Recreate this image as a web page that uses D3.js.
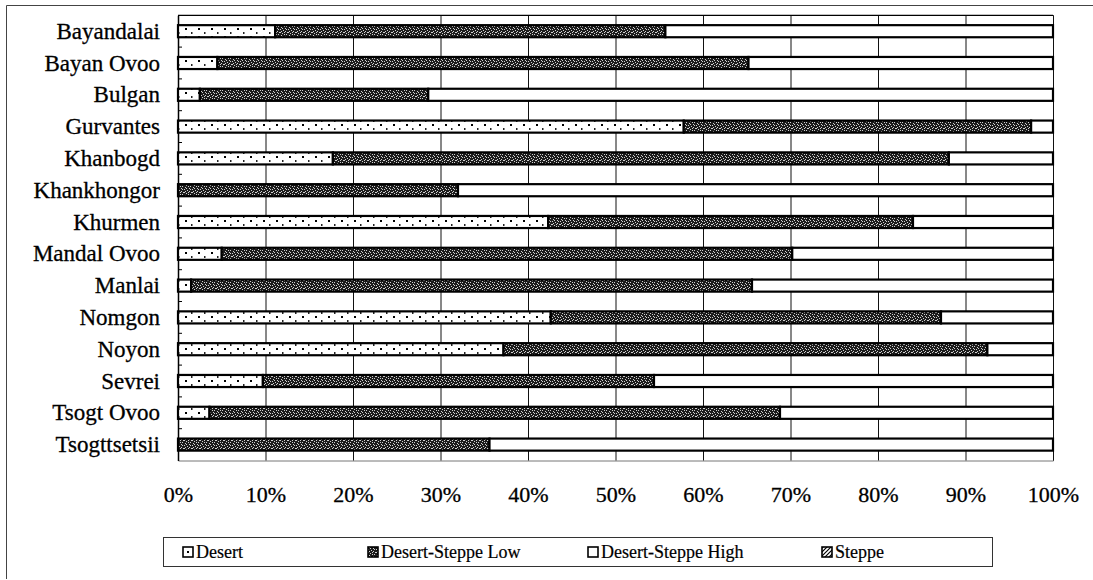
<!DOCTYPE html>
<html>
<head>
<meta charset="utf-8">
<script src="https://cdn.jsdelivr.net/npm/d3@7"></script>
<style>
  html, body { margin: 0; padding: 0; background: #fff; }
  svg { display: block; }
  svg text { font-family: "Liberation Serif", "Times New Roman", Times, serif; }
</style>
</head>
<body>
<svg id="chart" width="1093" height="580"></svg>
<script>
// Land-zone shares per soum (percent of area)
const categories = ["Bayandalai", "Bayan Ovoo", "Bulgan", "Gurvantes", "Khanbogd", "Khankhongor",
  "Khurmen", "Mandal Ovoo", "Manlai", "Nomgon", "Noyon", "Sevrei", "Tsogt Ovoo", "Tsogttsetsii"];
const desert     = [11.1, 4.5, 2.5, 57.8, 17.7, 0.0, 42.3, 5.0, 1.5, 42.6, 37.2, 9.7, 3.6, 0.0];
const desertLow  = [44.6, 60.7, 26.1, 39.7, 70.4, 32.0, 41.7, 65.2, 64.1, 44.6, 55.3, 44.7, 65.2, 35.6];
const desertHigh = [44.3, 34.8, 71.4, 2.5, 11.9, 68.0, 16.0, 29.8, 34.4, 12.8, 7.5, 45.6, 31.2, 64.4];
const steppe     = [0, 0, 0, 0, 0, 0, 0, 0, 0, 0, 0, 0, 0, 0];
const seriesNames = ["Desert", "Desert-Steppe Low", "Desert-Steppe High", "Steppe"];
const tickValues = [0, 10, 20, 30, 40, 50, 60, 70, 80, 90, 100];

const rows = categories.map((c, i) => ({
  name: c,
  "Desert": desert[i],
  "Desert-Steppe Low": desertLow[i],
  "Desert-Steppe High": desertHigh[i],
  "Steppe": steppe[i]
}));

const svg = d3.select("#chart");
const W = 1093, H = 580;
const plot = { left: 178, right: 1053, top: 15.3, bottom: 460.5 };
const serif = '"Liberation Serif", "Times New Roman", Times, serif';

svg.append("rect").attr("width", W).attr("height", H).attr("fill", "#fff");

// ---- fill patterns ----
const defs = svg.append("defs");

// sparse dots on white
const pDesert = defs.append("pattern").attr("id", "pat-desert")
  .attr("patternUnits", "userSpaceOnUse").attr("width", 13).attr("height", 8);
pDesert.append("rect").attr("width", 13).attr("height", 8).attr("fill", "#fff");
pDesert.append("rect").attr("x", 3).attr("y", 4).attr("width", 2).attr("height", 2).attr("fill", "#000");
pDesert.append("rect").attr("x", 9).attr("y", 0).attr("width", 1.5).attr("height", 2).attr("fill", "#222");

// dark speckled texture
const speckle = [
  "#...#..#",
  "..#.....",
  "....#.#.",
  ".#......",
  "..#..#..",
  "#.....#.",
  "...#....",
  ".#...#.."
];
const pLow = defs.append("pattern").attr("id", "pat-low")
  .attr("patternUnits", "userSpaceOnUse").attr("width", 8).attr("height", 8);
pLow.append("rect").attr("width", 8).attr("height", 8).attr("fill", "#1c1c1c");
speckle.forEach((row, yy) => {
  row.split("").forEach((ch, xx) => {
    if (ch === "#") pLow.append("rect").attr("x", xx).attr("y", yy)
      .attr("width", 1).attr("height", 1).attr("fill", "#d0d0d0");
  });
});

// diagonal hatch
const pSteppe = defs.append("pattern").attr("id", "pat-steppe")
  .attr("patternUnits", "userSpaceOnUse").attr("width", 4).attr("height", 4);
pSteppe.append("rect").attr("width", 4).attr("height", 4).attr("fill", "#fff");
pSteppe.append("path").attr("d", "M-1,5 L5,-1 M-1,1 L1,-1 M3,5 L5,3")
  .attr("stroke", "#000").attr("stroke-width", 1.2);

const fills = {
  "Desert": "url(#pat-desert)",
  "Desert-Steppe Low": "url(#pat-low)",
  "Desert-Steppe High": "#fff",
  "Steppe": "url(#pat-steppe)"
};

// ---- scales ----
const x = d3.scaleLinear().domain([0, 100]).range([plot.left, plot.right]);
const y = d3.scaleBand().domain(categories).range([plot.top, plot.bottom])
  .paddingInner(0.62).paddingOuter(0.31);

// outer frame (left and top edges)
svg.append("path").attr("d", `M6.5,579 L6.5,5.5 L1093,5.5`)
  .attr("fill", "none").attr("stroke", "#444").attr("stroke-width", 1);

// ---- gridlines + x tick labels ----
const xAxis = svg.append("g").attr("transform", `translate(0,${plot.bottom})`)
  .call(d3.axisBottom(x).tickValues(tickValues).tickFormat(d => d + "%")
    .tickSize(-(plot.bottom - plot.top)).tickPadding(0));
xAxis.attr("font-family", null);
xAxis.select(".domain").attr("stroke", "#777").attr("stroke-width", 1);
xAxis.selectAll(".tick line").attr("stroke", "#111").attr("stroke-width", 1);
xAxis.selectAll(".tick text")
  .attr("y", 41).attr("dy", 0)
  .attr("fill", "#000").attr("font-size", 22)
  .attr("stroke", "#000").attr("stroke-width", 0.3)
  .style("font-family", serif);

// plot top edge
svg.append("line").attr("x1", plot.left).attr("x2", plot.right)
  .attr("y1", plot.top).attr("y2", plot.top).attr("stroke", "#000").attr("stroke-width", 1.2);

// ---- category axis ----
const yAxis = svg.append("g").attr("transform", `translate(${plot.left},0)`)
  .call(d3.axisLeft(y).tickSize(0).tickPadding(18));
yAxis.attr("font-family", null);
yAxis.select(".domain").attr("stroke", "#000").attr("stroke-width", 1.5);
yAxis.selectAll(".tick text")
  .attr("fill", "#000").attr("font-size", 23).attr("dy", "0.33em")
  .attr("stroke", "#000").attr("stroke-width", 0.3)
  .style("font-family", serif);

// small inward ticks at band boundaries
const step = y.step();
svg.append("g").selectAll("line")
  .data(d3.range(1, categories.length))
  .join("line")
  .attr("x1", plot.left).attr("x2", plot.left + 4)
  .attr("y1", i => plot.top + i * step).attr("y2", i => plot.top + i * step)
  .attr("stroke", "#000").attr("stroke-width", 1);

// ---- stacked bars ----
const stack = d3.stack().keys(seriesNames);
const series = stack(rows);

svg.append("g").selectAll("g")
  .data(series)
  .join("g")
  .attr("fill", s => fills[s.key])
  .selectAll("rect")
  .data(s => s.filter(d => d[1] - d[0] > 0))
  .join("rect")
  .attr("x", d => x(d[0]))
  .attr("y", d => y(d.data.name))
  .attr("width", d => x(d[1]) - x(d[0]))
  .attr("height", y.bandwidth())
  .attr("stroke", "#000")
  .attr("stroke-width", 2.2);

// ---- legend ----
const legend = svg.append("g");
legend.append("rect")
  .attr("x", 163.5).attr("y", 537.5).attr("width", 829).attr("height", 29)
  .attr("fill", "#fff").attr("stroke", "#333").attr("stroke-width", 1);

const legendX = [183, 368, 588, 822];
const items = legend.selectAll("g.item")
  .data(seriesNames)
  .join("g").attr("class", "item")
  .attr("transform", (d, i) => `translate(${legendX[i]},552)`);
items.append("rect")
  .attr("x", 0).attr("y", -5).attr("width", 10).attr("height", 10)
  .attr("fill", d => d === "Desert" ? "#fff" : fills[d])
  .attr("stroke", "#000").attr("stroke-width", 1.6);
items.filter(d => d === "Desert").append("rect")
  .attr("x", 4).attr("y", -1).attr("width", 2).attr("height", 2).attr("fill", "#000");
items.append("text")
  .attr("x", 13).attr("y", 6)
  .attr("font-size", 18).attr("fill", "#000")
  .attr("stroke", "#000").attr("stroke-width", 0.2)
  .style("font-family", serif)
  .text(d => d);
</script>
</body>
</html>
